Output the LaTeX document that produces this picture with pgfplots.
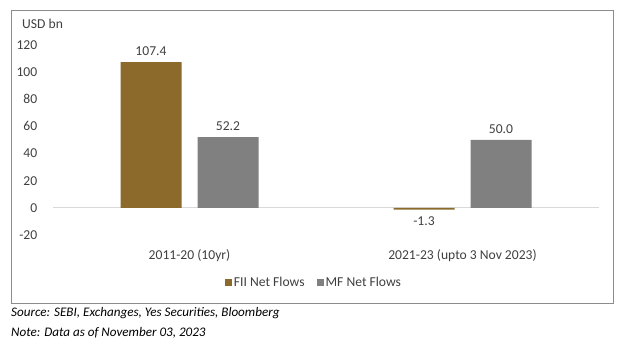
\documentclass[border=0pt]{standalone}
\usepackage{pgfplots}
\pgfplotsset{compat=1.18}
\usepackage{fontspec}
\setmainfont{Carlito}
\definecolor{fii}{HTML}{8C6A2B}
\definecolor{mf}{HTML}{808080}
\definecolor{txt}{HTML}{404040}
\definecolor{frame}{HTML}{8C8C8C}
\definecolor{zero}{HTML}{D9D9D9}
\begin{document}
\fontsize{13.6bp}{16bp}\selectfont
\begin{tikzpicture}
\useasboundingbox (0bp,0bp) rectangle (627bp,357bp);
\draw[frame, line width=0.9bp] (11bp,347bp) rectangle (613bp,54bp);
\node[anchor=west, text=txt, inner sep=0] at (22bp,333bp) {USD bn};
\begin{axis}[
  at={(53bp,122bp)}, anchor=south west,
  scale only axis, width=546bp, height=190bp,
  ybar=16bp, bar width=61bp,
  xmin=-0.5, xmax=1.5, ymin=-20, ymax=120,
  xtick={0,1}, xticklabels={2011-20 (10yr), 2021-23 (upto 3 Nov 2023)},
  ytick={-20,0,20,40,60,80,100,120},
  major tick length=0pt,
  ticklabel style={text=txt, font=\fontsize{13.6bp}{16bp}\selectfont},
  yticklabel style={anchor=east, xshift=-11bp},
  xticklabel style={anchor=north, yshift=-10bp},
  axis line style={draw=none},
  /pgf/number format/assume math mode=true,
  nodes near coords,
  nodes near coords style={text=txt, font=\fontsize{13.6bp}{16bp}\selectfont, inner sep=6.5bp,
    /pgf/number format/fixed, /pgf/number format/precision=1, /pgf/number format/fixed zerofill},
  legend style={at={(0.478,-0.2526)}, anchor=center, draw=none, fill=none,
    legend columns=2, font=\fontsize{13.6bp}{16bp}\selectfont, text=txt,
    /tikz/every even column/.append style={column sep=10bp}},
  legend image code/.code={\fill[#1] (0bp,-3.5bp) rectangle (7bp,3.5bp);},
]
\draw[zero, line width=0.9bp] (axis cs:-0.5,0) -- (axis cs:1.5,0);
\addplot[fill=fii, draw=none] coordinates {(0,107.4) (1,-1.3)};
\addplot[fill=mf, draw=none] coordinates {(0,52.2) (1,50.0)};
\legend{FII Net Flows, MF Net Flows}
\end{axis}
\node[anchor=west, inner sep=0, font=\itshape\fontsize{13.1bp}{15bp}\selectfont] at (11bp,44bp) {Source: SEBI, Exchanges, Yes Securities, Bloomberg};
\node[anchor=west, inner sep=0, font=\itshape\fontsize{13.1bp}{15bp}\selectfont] at (11bp,24bp) {Note: Data as of November 03, 2023};
\end{tikzpicture}
\end{document}
